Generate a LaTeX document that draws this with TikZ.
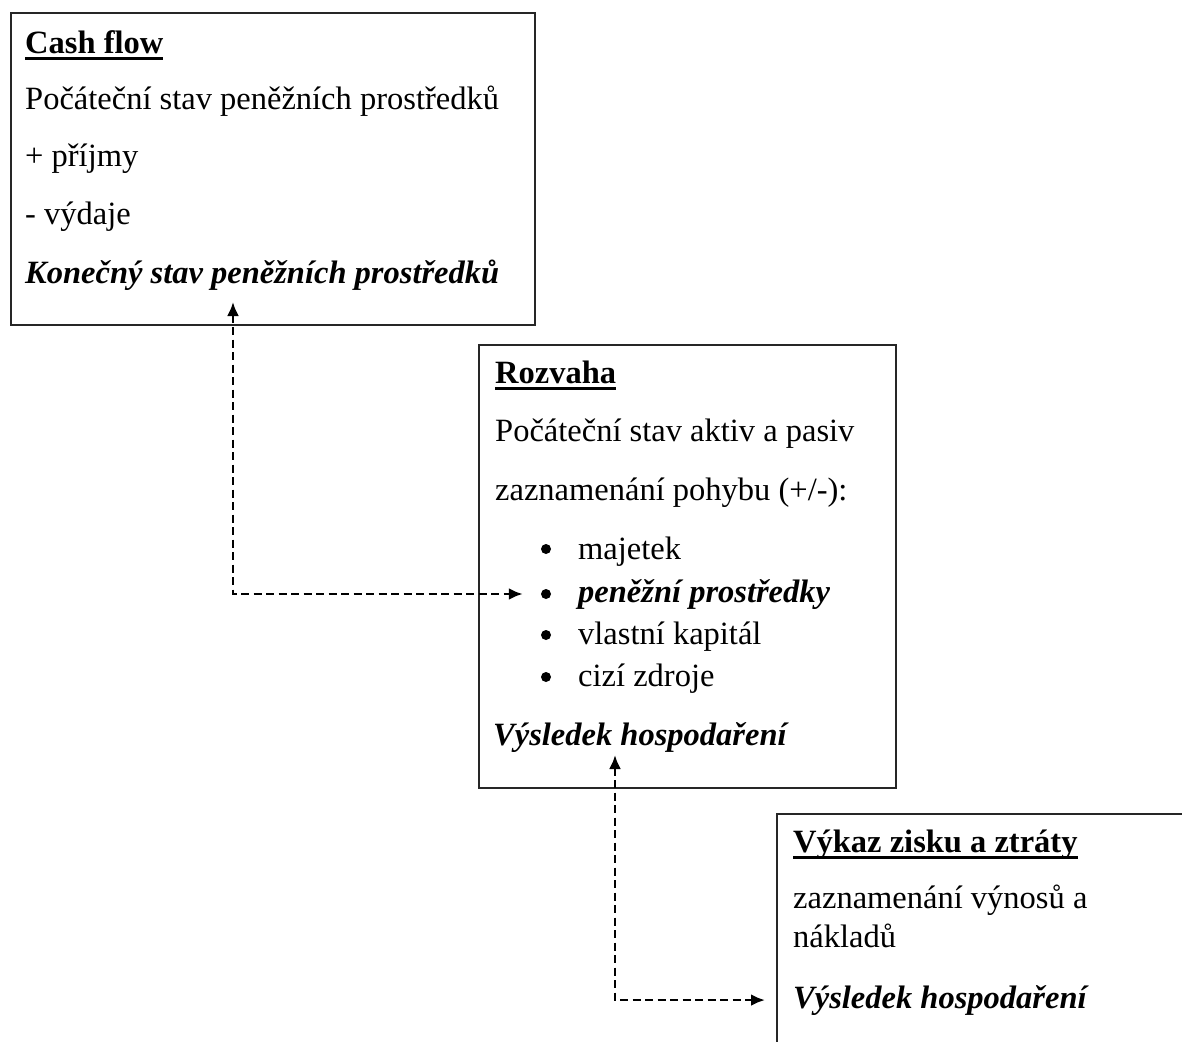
\documentclass[tikz,border=0pt]{standalone}
\usepackage{fontspec}
\setmainfont{Liberation Serif}
\usepackage{tikz}
\usetikzlibrary{arrows.meta}
\tikzset{>={Latex[length=14pt,width=12pt]}}
\tikzset{
	box/.style={draw=black!85,line width=2.3pt,anchor=north west,inner sep=0pt},
	txt/.style={anchor=base west,inner sep=0pt},
	bul/.style={circle,fill,inner sep=0pt,minimum size=10pt},
	flow/.style={<->,line width=2.7pt,dash pattern=on 8pt off 4.5pt}
}
\newcommand{\headline}[1]{\setbox0\hbox{\textbf{#1}}\rlap{\rule[-6.5pt]{\wd0}{2.6pt}}\box0}

\begin{document}
\begin{tikzpicture}[x=1pt,y=-1pt,font=\fontsize{32.5}{38}\selectfont]
	\clip (0,0) rectangle (1182,1041);
	% cash flow
	\node[box,minimum width=524pt,minimum height=312pt] (cashflow) at (10,12) {};
	\node[txt] (cfhead) at (25,53) {\headline{Cash flow}};
	\node[txt] (cfstart) at (25,109) {Počáteční stav peněžních prostředků};
	\node[txt] (cfin) at (25,166) {+ příjmy};
	\node[txt] (cfout) at (25,224) {- výdaje};
	\node[txt] (cfend) at (25,283) {\textbf{\textit{Konečný stav peněžních prostředků}}};
	% rozvaha
	\node[box,minimum width=417pt,minimum height=443pt] (rozvaha) at (478,344) {};
	\node[txt] (rzhead) at (495,383) {\headline{Rozvaha}};
	\node[txt] (rzstart) at (495,441) {Počáteční stav aktiv a pasiv};
	\node[txt] (rzmove) at (495,500) {zaznamenání pohybu (+/-):};
	\node[bul] (bmaj) at (546,549) {};
	\node[txt] (rzmaj) at (578,559) {majetek};
	\node[bul] (bpen) at (546,594) {};
	\node[txt] (rzpen) at (578,602) {\textbf{\textit{peněžní prostředky}}};
	\node[bul] (bvk) at (546,635) {};
	\node[txt] (rzvk) at (578,644) {vlastní kapitál};
	\node[bul] (bcz) at (546,677) {};
	\node[txt] (rzcz) at (578,686) {cizí zdroje};
	\node[txt] (rzres) at (493,745) {\textbf{\textit{Výsledek hospodaření}}};
	% vykaz zisku a ztraty
	\node[box,minimum width=500pt,minimum height=300pt] (vzz) at (776,813) {};
	\node[txt] (vzzhead) at (793,852) {\headline{Výkaz zisku a ztráty}};
	\node[txt] (vzzrec) at (793,908) {zaznamenání výnosů a};
	\node[txt] (vzzcost) at (793,947) {nákladů};
	\node[txt] (vzzres) at (793,1008) {\textbf{\textit{Výsledek hospodaření}}};
	% vazby
	\coordinate (cftip) at (233,302);
	\coordinate (rztip) at (615,755);
	\draw[flow,shorten >=18pt] (cftip) |- (bpen.west);
	\draw[flow,shorten >=28pt] (rztip) |- (vzzres.west);
\end{tikzpicture}
\end{document}
